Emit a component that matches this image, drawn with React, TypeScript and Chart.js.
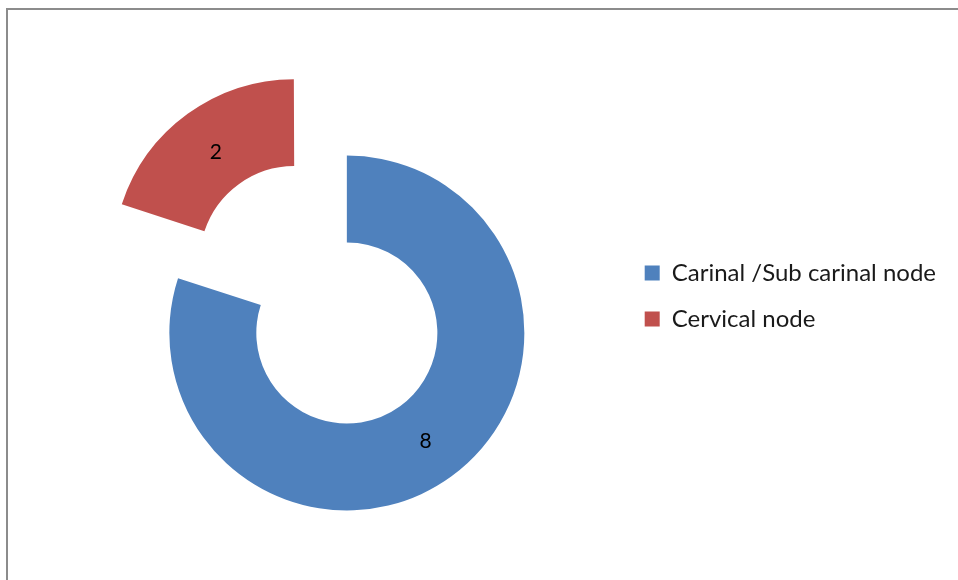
import React, { useEffect, useRef } from "react";
import { Chart, registerables } from "chart.js";

Chart.register(...registerables);

const categories: string[] = ["Carinal /Sub carinal node", "Cervical node"];
const values: number[] = [8, 2];
const colors: string[] = ["#4F81BD", "#C0504D"];
const explode: number[] = [0, 356];

const valueLabels = {
  id: "valueLabels",
  afterDatasetsDraw(chart: any) {
    const ctx = chart.ctx;
    const meta = chart.getDatasetMeta(0);
    ctx.save();
    ctx.font = "21px Lato";
    ctx.fillStyle = "#000";
    ctx.textAlign = "center";
    ctx.textBaseline = "middle";
    meta.data.forEach((arc: any, i: number) => {
      const p = arc.getProps(["x", "y", "startAngle", "endAngle", "innerRadius", "outerRadius"]);
      const off = (arc.options.offset || 0) / 4;
      const a = (p.startAngle + p.endAngle) / 2;
      const r = (p.innerRadius + p.outerRadius) / 2 + off;
      ctx.fillText(String(values[i]), p.x + Math.cos(a) * r, p.y + Math.sin(a) * r);
    });
    ctx.restore();
  },
};

export default function App() {
  const ref = useRef<HTMLCanvasElement | null>(null);
  useEffect(() => {
    if (!ref.current) return;
    const chart = new Chart(ref.current, {
      type: "doughnut",
      data: {
        labels: categories,
        datasets: [
          {
            data: values,
            backgroundColor: colors,
            borderWidth: 0,
            offset: explode,
            clip: false,
          } as any,
        ],
      },
      options: {
        responsive: false,
        animation: false,
        radius: 177.5,
        cutout: "51%",
        layout: { padding: { left: 71, right: 12, top: 239, bottom: 153 } },
        plugins: {
          tooltip: { enabled: false },
          legend: {
            position: "right",
            align: "start",
            labels: {
              boxWidth: 15,
              boxHeight: 15,
              padding: 22,
              color: "#1a1a1a",
              font: { family: "Lato", size: 24 },
            },
          },
        },
      } as any,
      plugins: [valueLabels],
    });
    return () => chart.destroy();
  }, []);
  return (
    <div style={{ position: "absolute", left: 0, top: 0, width: 958, height: 580, background: "#fff" }}>
      <canvas ref={ref} width={958} height={580} style={{ display: "block" }} />
      <div
        style={{
          position: "absolute",
          left: 6,
          top: 8,
          right: 0,
          bottom: 0,
          borderLeft: "2px solid #8c8c8c",
          borderTop: "2px solid #8c8c8c",
          pointerEvents: "none",
        }}
      />
    </div>
  );
}
